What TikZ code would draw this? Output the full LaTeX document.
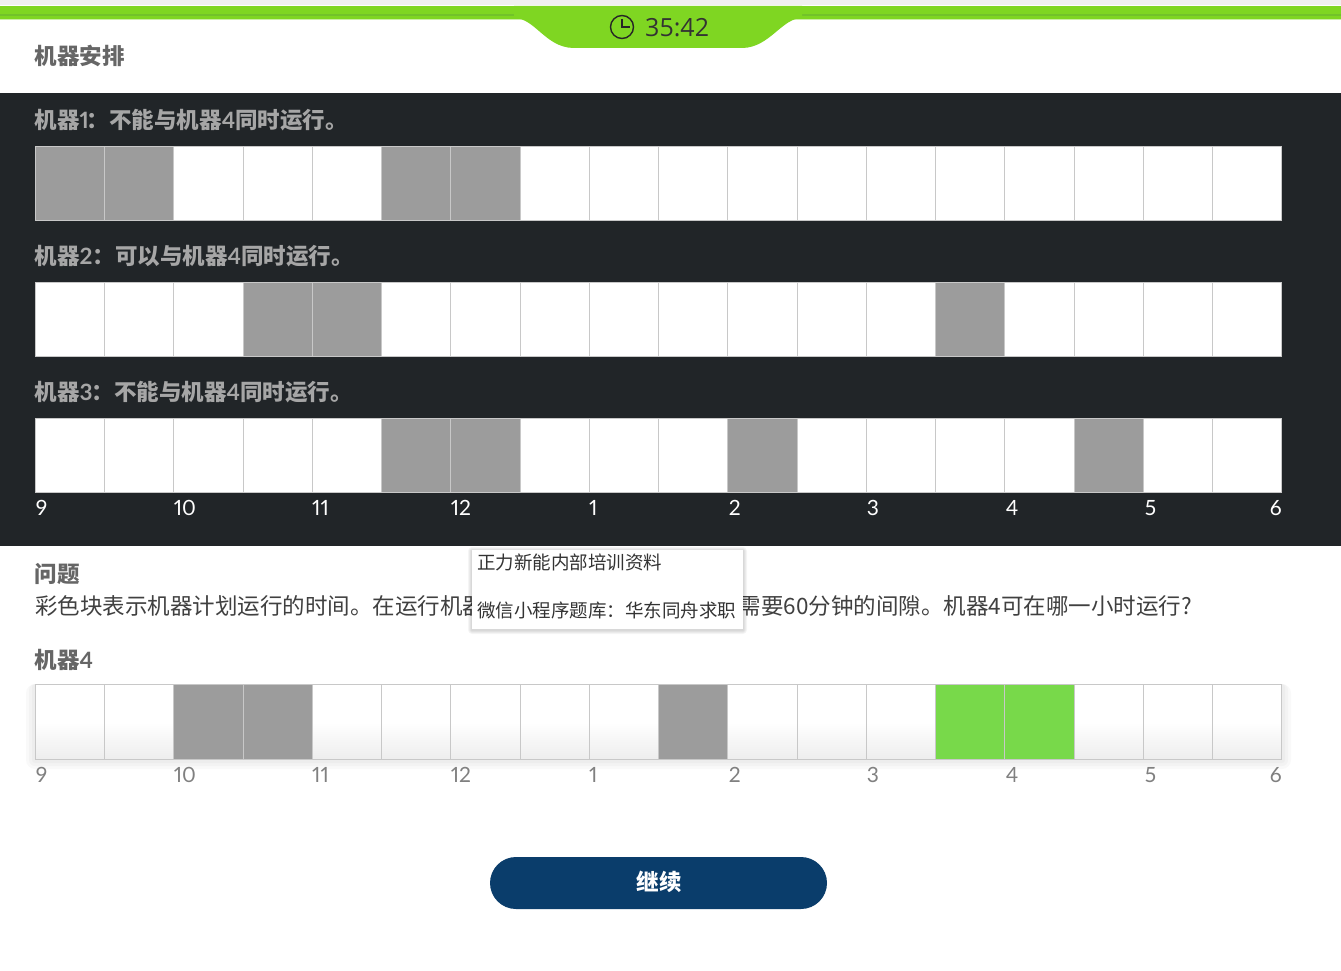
\documentclass[tikz,border=0pt]{standalone}
\usepackage{fontspec}
\setmainfont{Noto Sans CJK SC}
\newfontfamily\numfont[Numbers=Proportional,BoldFont={Lato Bold}]{Lato}
\newfontfamily\clockfont{Open Sans}
\definecolor{panelgrey}{HTML}{212528}
\definecolor{busygrey}{HTML}{9C9C9C}
\definecolor{cellline}{HTML}{C8C8C8}
\definecolor{barGreen}{HTML}{7FD622}
\definecolor{stripeGreen}{HTML}{72C22A}
\definecolor{slotGreen}{HTML}{78D94A}
\definecolor{btnBlue}{HTML}{0A3D6B}
\tikzset{
	cellbox/.style={draw=cellline,line width=1pt,fill=white,minimum width=69.25pt,minimum height=74pt,inner sep=0pt,outer sep=0pt,anchor=north west},
	busybox/.style={cellbox,fill=busygrey},
	freebox/.style={cellbox,top color=white,bottom color=black!7,middle color=white},
	slotbox/.style={cellbox,fill=slotGreen},
	titletext/.style={anchor=west,inner sep=0pt,font=\fontsize{22.5}{26}\selectfont\bfseries},
	hourtext/.style={anchor=west,inner sep=0pt,font=\fontsize{21}{26}\selectfont\numfont},
	bodytext/.style={anchor=west,inner sep=0pt,text=black!75,font=\fontsize{22.5}{26}\selectfont},
	tiptext/.style={anchor=west,inner sep=0pt,text=black!80,font=\fontsize{18.5}{22}\selectfont}
}
\newcommand{\machinerow}[3]{
	\foreach \c in {0,...,17}
		\node[cellbox] (#1c\c) at ({35.4+69.25*\c},#2) {};
	\foreach \c in {#3}
		\node[busybox] (#1b\c) at ({35.4+69.25*\c},#2) {};
}
\newcommand{\hourrow}[2]{
	\foreach \h/\px in {9/35.7,10/173.7,11/312,12/450.7,1/589,2/728.7,3/866.7,4/1005.7,5/1144.7,6/1269.7}
		\node[hourtext,text=#2] (#1h\h) at (\px,#1) {\h};
}
\newcommand{\bd}[1]{{\numfont\bfseries #1}}
\begin{document}
\begin{tikzpicture}[x=1pt,y=-1pt]
	\useasboundingbox (0,0) rectangle (1341,971);
	\fill[white] (0,0) rectangle (1341,971);

	% top bar
	\fill[black!6] (0,0) rectangle (1341,5);
	\fill[barGreen] (0,6) rectangle (1341,19);
	\fill[stripeGreen] (0,14) rectangle (1341,16);
	\fill[barGreen!40] (0,19) rectangle (1341,20);
	\fill[barGreen] (514,6) -- (514,18) .. controls (535,18) and (545,47) .. (573,48)
		-- (743,48) .. controls (770,47) and (782,18) .. (802,18) -- (802,6) -- cycle;
	\node[circle,draw=black!85,line width=1.4pt,minimum size=23pt,inner sep=0pt] (clock) at (622,27) {};
	\draw[black!85,line width=1.3pt] (622,19) -- (clock.center) -- (630,27);
	\node[anchor=west,inner sep=0pt,text=black!80,font=\fontsize{25}{30}\selectfont\clockfont] (timer) at (645,28) {35:42};

	\node[titletext,text=black!60] (title) at (34.5,55.5) {机器安排};

	% dark panel
	\fill[panelgrey] (0,93) rectangle (1341,546);
	\begin{scope}[every node/.append style={text=black!35}]
		\node[titletext] (label1) at (34.5,120.5) {机器\bd{1}\hspace{-2pt}：不能与机器\bd{4}同时运行。};
		\node[titletext] (label2) at (34.5,256.5) {机器\bd{2}：可以与机器\bd{4}同时运行。};
		\node[titletext] (label3) at (34.5,392.5) {机器\bd{3}\hspace{-1pt}：不能与机器\bd{4}同时运行。};
	\end{scope}
	\machinerow{A}{146.5}{0,1,5,6}
	\machinerow{B}{282.5}{3,4,13}
	\machinerow{C}{418.5}{5,6,10,15}
	\hourrow{508}{white}

	% question
	\node[titletext,text=black!60] (quest) at (34.5,573.5) {问题};
	\node[bodytext] (textl) at (35,606) {彩色块表示机器计划运行的时间。在运行机器};
	\node[bodytext,anchor=east] (textr) at (1192,606) {需要60分钟的间隙。机器4可在哪一小时运行?};

	% tooltip
	\foreach \g in {4,3,2,1}
		\fill[black,opacity=.04,rounded corners=\g pt] (472-\g,550-\g+1) rectangle (743+\g,629+\g+1);
	\fill[white] (472,550) rectangle (743,629);
	\node[tiptext] (tip1) at (477,562) {正力新能内部培训资料};
	\node[tiptext] (tip2) at (477,610) {微信小程序题库：华东同舟求职};

	% machine 4
	\node[titletext,text=black!60] (label4) at (34.5,659.5) {机器\bd{4}};
	\foreach \g in {9,6,3}
		\fill[black,opacity=.025,rounded corners=\g pt] (35-\g,684) rectangle (1282+\g,760+\g);
	\foreach \c in {0,...,17}
		\node[freebox,minimum height=75pt] (Dc\c) at ({35.4+69.25*\c},684.5) {};
	\foreach \c in {2,3,9}
		\node[busybox,minimum height=75pt] (Db\c) at ({35.4+69.25*\c},684.5) {};
	\foreach \c in {13,14}
		\node[slotbox,minimum height=75pt] (Ds\c) at ({35.4+69.25*\c},684.5) {};
	\hourrow{775}{black!50}

	% button
	\node[fill=btnBlue,rounded corners=26pt,minimum width=337pt,minimum height=52pt,inner sep=0pt] (next) at (658.5,883) {};
	\node[inner sep=0pt,text=white,font=\fontsize{22.5}{26}\selectfont\bfseries] (nextlabel) at (659,881.5) {继续};
\end{tikzpicture}
\end{document}
